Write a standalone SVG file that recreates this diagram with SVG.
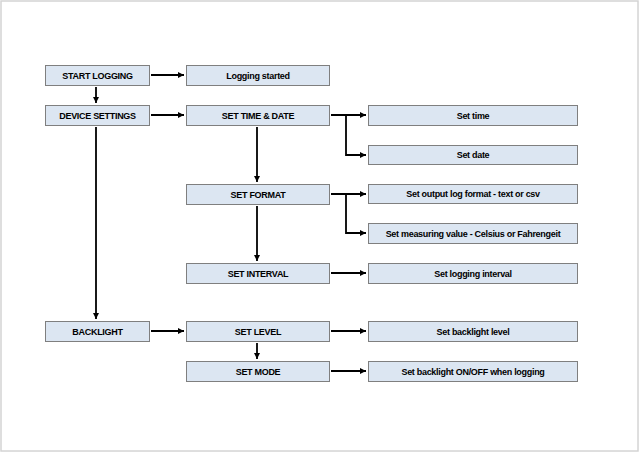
<svg xmlns="http://www.w3.org/2000/svg" width="640" height="453" viewBox="0 0 640 453">
<style>
.box{fill:#dce6f2;stroke:#7f7f7f;stroke-width:1}
.t{font-family:"Liberation Sans",Arial,sans-serif;font-weight:bold;font-size:9px;letter-spacing:-0.3px;fill:#000;text-anchor:middle;dominant-baseline:central}
.c{fill:none;stroke:#000;stroke-width:1.8}
</style>
<defs>
<marker id="ah" markerUnits="userSpaceOnUse" markerWidth="7" markerHeight="7" refX="6" refY="3" orient="auto">
<path d="M0,0 L6,3 L0,6 z" fill="#000"/>
</marker>
</defs>
<rect x="1" y="1" width="637" height="450" fill="#fff" stroke="#d4d4d4" stroke-width="1.5"/>
<g id="connectors">
<path class="c" d="M151,75 H184" marker-end="url(#ah)"/>
<path class="c" d="M96,87 V103" marker-end="url(#ah)"/>
<path class="c" d="M151,115 H184" marker-end="url(#ah)"/>
<path class="c" d="M96,127 V319" marker-end="url(#ah)"/>
<path class="c" d="M331,115 H366" marker-end="url(#ah)"/>
<path class="c" d="M346,115 V155 H366" marker-end="url(#ah)"/>
<path class="c" d="M257,127 V182" marker-end="url(#ah)"/>
<path class="c" d="M331,194 H366" marker-end="url(#ah)"/>
<path class="c" d="M346,194 V233 H366" marker-end="url(#ah)"/>
<path class="c" d="M257,206 V261" marker-end="url(#ah)"/>
<path class="c" d="M331,273 H366" marker-end="url(#ah)"/>
<path class="c" d="M151,331 H184" marker-end="url(#ah)"/>
<path class="c" d="M331,331 H366" marker-end="url(#ah)"/>
<path class="c" d="M257,343 V359" marker-end="url(#ah)"/>
<path class="c" d="M331,371 H366" marker-end="url(#ah)"/>
</g>
<g id="start"><rect class="box" x="45.5" y="65.5" width="104" height="20"/><text class="t" x="97.5" y="75.5">START LOGGING</text></g>
<g id="logstarted"><rect class="box" x="186.5" y="65.5" width="143" height="20"/><text class="t" x="258" y="75.5">Logging started</text></g>
<g id="device"><rect class="box" x="45.5" y="105.5" width="104" height="20"/><text class="t" x="97.5" y="115.5">DEVICE SETTINGS</text></g>
<g id="timedate"><rect class="box" x="186.5" y="105.5" width="143" height="20"/><text class="t" x="258" y="115.5">SET TIME &amp; DATE</text></g>
<g id="settime"><rect class="box" x="368.5" y="105.5" width="209" height="20"/><text class="t" x="473" y="115.5">Set time</text></g>
<g id="setdate"><rect class="box" x="368.5" y="145.5" width="209" height="19"/><text class="t" x="473" y="155">Set date</text></g>
<g id="format"><rect class="box" x="186.5" y="184.5" width="143" height="20"/><text class="t" x="258" y="194.5">SET FORMAT</text></g>
<g id="outfmt"><rect class="box" x="368.5" y="184.5" width="209" height="19"/><text class="t" x="473" y="194">Set output log format - text or csv</text></g>
<g id="measure"><rect class="box" x="368.5" y="223.5" width="209" height="20"/><text class="t" x="473" y="233.5">Set measuring value - Celsius or Fahrengeit</text></g>
<g id="interval"><rect class="box" x="186.5" y="263.5" width="143" height="20"/><text class="t" x="258" y="273.5">SET INTERVAL</text></g>
<g id="loginterval"><rect class="box" x="368.5" y="263.5" width="209" height="20"/><text class="t" x="473" y="273.5">Set logging interval</text></g>
<g id="backlight"><rect class="box" x="45.5" y="321.5" width="104" height="20"/><text class="t" x="97.5" y="331.5">BACKLIGHT</text></g>
<g id="level"><rect class="box" x="186.5" y="321.5" width="143" height="20"/><text class="t" x="258" y="331.5">SET LEVEL</text></g>
<g id="bllevel"><rect class="box" x="368.5" y="321.5" width="209" height="20"/><text class="t" x="473" y="331.5">Set backlight level</text></g>
<g id="mode"><rect class="box" x="186.5" y="361.5" width="143" height="20"/><text class="t" x="258" y="371.5">SET MODE</text></g>
<g id="blmode"><rect class="box" x="368.5" y="361.5" width="209" height="20"/><text class="t" x="473" y="371.5">Set backlight ON/OFF when logging</text></g>
</svg>
